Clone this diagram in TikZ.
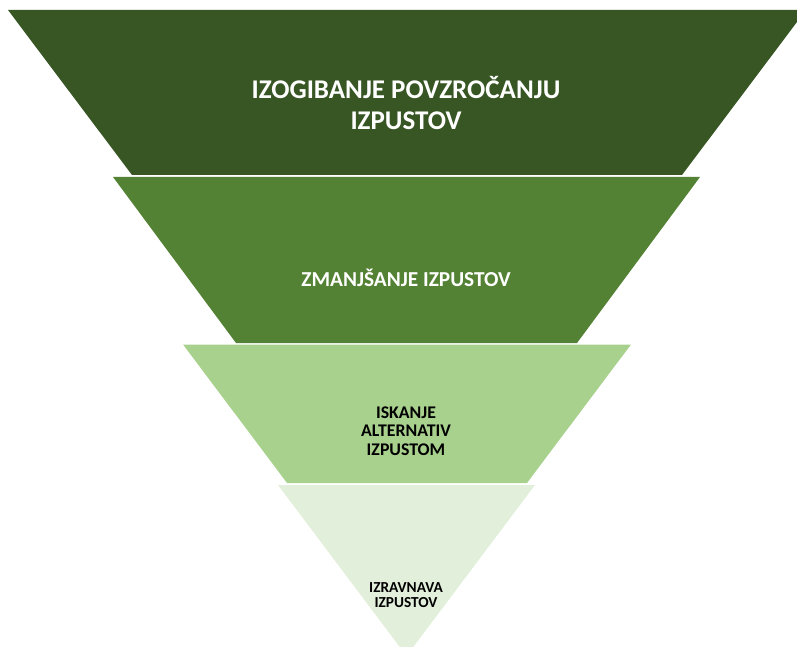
\documentclass[tikz,border=0pt]{standalone}
\usepackage{fontspec}
\setmainfont{Carlito}
\definecolor{gA}{HTML}{375623}
\definecolor{gB}{HTML}{548235}
\definecolor{gC}{HTML}{A9D18E}
\definecolor{gD}{HTML}{E2EFDA}
\tikzset{
  lbl/.style={align=center, font=\bfseries, inner sep=0pt},
}
\begin{document}
\begin{tikzpicture}[x=1pt,y=-1pt]
\useasboundingbox (0,0) rectangle (797,647);
\clip (0,0) rectangle (797,647);
\fill[gA] (8,10) -- (806,10) -- (682,175) -- (132,175) -- cycle;
\fill[gB] (113,177) -- (700,177) -- (577,343) -- (236,343) -- cycle;
\fill[gC] (183,344.5) -- (631,344.5) -- (527,483) -- (287,483) -- cycle;
\fill[gD] (278,485) -- (535,485) -- (406.5,656) -- cycle;
\node[lbl, text=white, font=\bfseries\fontsize{27}{31}\selectfont] (t1) at (406,103) {IZOGIBANJE POVZROČANJU\\IZPUSTOV};
\node[lbl, text=white, font=\bfseries\fontsize{21.3}{24}\selectfont] (t2) at (406,278) {ZMANJŠANJE IZPUSTOV};
\node[lbl, text=black, font=\bfseries\fontsize{17.8}{18.7}\selectfont] (t3) at (406,431) {ISKANJE\\ALTERNATIV\\IZPUSTOM};
\node[lbl, text=black, font=\bfseries\fontsize{15.3}{14.5}\selectfont] (t4) at (406,595) {IZRAVNAVA\\IZPUSTOV};
\end{tikzpicture}
\end{document}
